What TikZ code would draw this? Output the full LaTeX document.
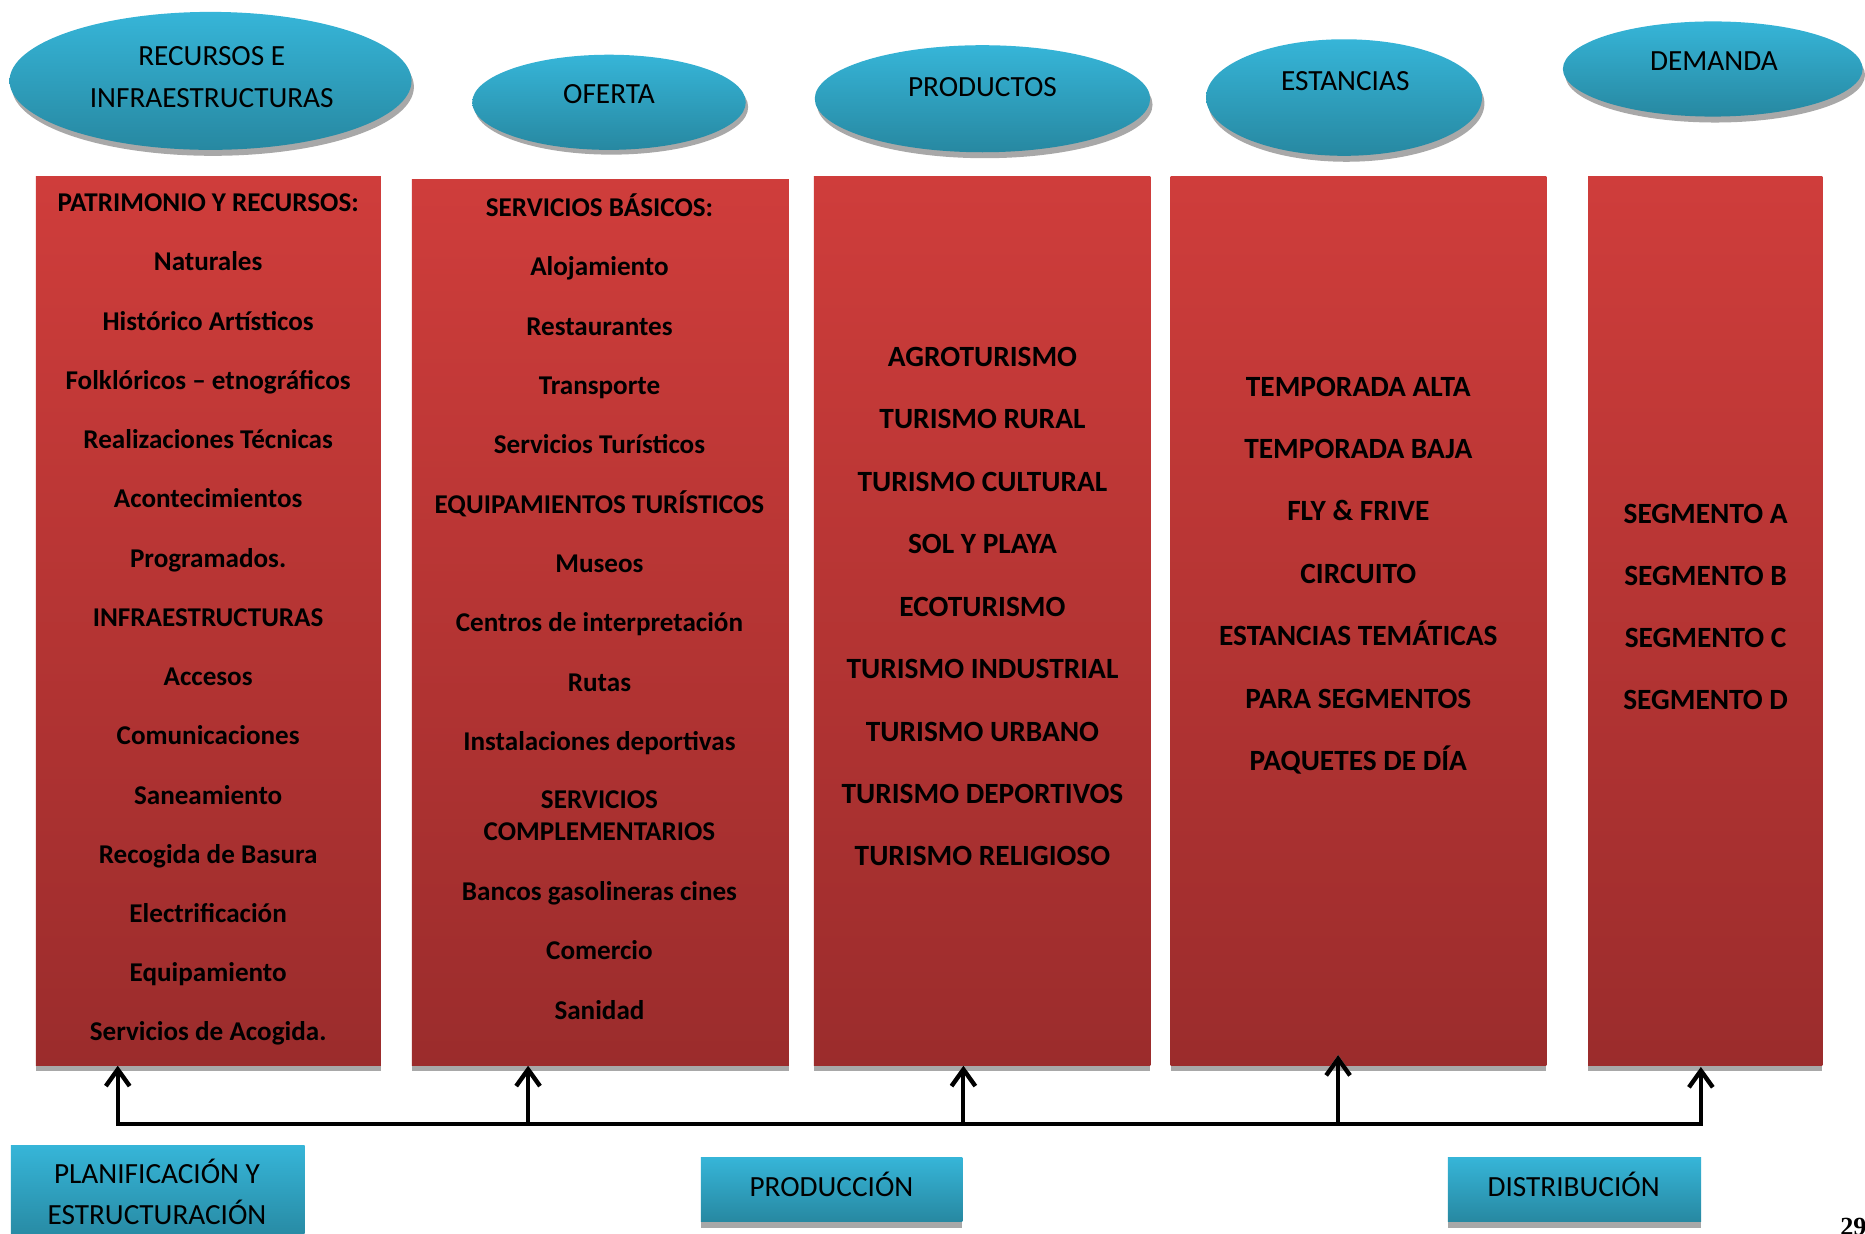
\documentclass[tikz,border=0pt]{standalone}
\usepackage{fontspec}
\setmainfont{Carlito}
\newfontfamily\pagefont{Liberation Serif}
\usetikzlibrary{shapes.geometric,arrows.meta}
\definecolor{cyT}{RGB}{54,181,216}
\definecolor{cyB}{RGB}{39,136,161}
\definecolor{rdT}{RGB}{207,61,59}
\definecolor{rdB}{RGB}{155,44,44}
\definecolor{shd}{RGB}{168,168,168}
\begin{document}
\begin{tikzpicture}[x=1pt,y=-1pt,
  oval/.style={ellipse,inner sep=0pt,top color=cyT,bottom color=cyB,draw=none},
  ovalshadow/.style={ellipse,inner sep=0pt,fill=shd,draw=none},
  ovaltext/.style={font=\fontsize{24.6}{35}\selectfont,align=center,inner sep=0pt,text=black},
  redbox/.style={rectangle,inner sep=0pt,top color=rdT,bottom color=rdB,draw=none,anchor=north west},
  boxshadow/.style={rectangle,inner sep=0pt,fill=shd,draw=none,anchor=north west},
  itemA/.style={font=\bfseries\fontsize{22.8}{27}\selectfont,align=center,inner sep=0pt,anchor=base,text=black},
  itemB/.style={font=\bfseries\fontsize{24.7}{28}\selectfont,align=center,inner sep=0pt,anchor=base,text=black},
  bluebox/.style={rectangle,inner sep=0pt,top color=cyT,bottom color=cyB,draw=none,anchor=north west},
  bluetext/.style={font=\fontsize{24.6}{35}\selectfont,align=center,inner sep=0pt,text=black},
  conn/.style={line width=3.4pt,black},
  connshadow/.style={line width=3.4pt,shd},
  tip/.style={-{Straight Barb[length=14pt,width=20pt,line width=3.6pt]}},
  tiptwo/.style={{Straight Barb[length=14pt,width=20pt,line width=3.6pt]}-{Straight Barb[length=14pt,width=20pt,line width=3.6pt]}}
]
\useasboundingbox (0,0) rectangle (1568,1037);
\fill[white] (0,0) rectangle (1568,1037);

% ---- ellipses ----
\node[ovalshadow,minimum width=338pt,minimum height=116pt] (e1s) at (179,73) {};
\node[oval,minimum width=338pt,minimum height=116pt] (e1) at (177,68) {};
\node[ovaltext] (e1t) at (178,65) {RECURSOS E\\INFRAESTRUCTURAS};

\node[ovalshadow,minimum width=230pt,minimum height=80pt] (e2s) at (514,90) {};
\node[oval,minimum width=230pt,minimum height=80pt] (e2) at (512,86) {};
\node[ovaltext] (e2t) at (512,79) {OFERTA};

\node[ovalshadow,minimum width=282pt,minimum height=90pt] (e3s) at (828,88) {};
\node[oval,minimum width=282pt,minimum height=90pt] (e3) at (826,83) {};
\node[ovaltext] (e3t) at (826,73) {PRODUCTOS};

\node[ovalshadow,minimum width=232pt,minimum height=98pt] (e4s) at (1132,87) {};
\node[oval,minimum width=232pt,minimum height=98pt] (e4) at (1130,82) {};
\node[ovaltext] (e4t) at (1131,68) {ESTANCIAS};

\node[ovalshadow,minimum width=252pt,minimum height=80pt] (e5s) at (1442,63) {};
\node[oval,minimum width=252pt,minimum height=80pt] (e5) at (1440,58) {};
\node[ovaltext] (e5t) at (1441,51) {DEMANDA};

% ---- red columns ----
\node[boxshadow,minimum width=290pt,minimum height=752pt] (b1s) at (30,148) {};
\node[redbox,minimum width=290pt,minimum height=748pt] (b1) at (30,148) {};
\node[boxshadow,minimum width=317pt,minimum height=749pt] (b2s) at (346,151) {};
\node[redbox,minimum width=317pt,minimum height=745pt] (b2) at (346,151) {};
\node[boxshadow,minimum width=283pt,minimum height=752pt] (b3s) at (684,148) {};
\node[redbox,minimum width=283pt,minimum height=748pt] (b3) at (684,148) {};
\node[boxshadow,minimum width=316pt,minimum height=752pt] (b4s) at (984,148) {};
\node[redbox,minimum width=316pt,minimum height=748pt] (b4) at (984,148) {};
\node[boxshadow,minimum width=197pt,minimum height=752pt] (b5s) at (1335,148) {};
\node[redbox,minimum width=197pt,minimum height=748pt] (b5) at (1335,148) {};

% ---- column 1 ----
\foreach \t [count=\i] in {PATRIMONIO Y RECURSOS:,Naturales,Histórico Artísticos,Folklóricos – etnográficos,Realizaciones Técnicas,Acontecimientos,Programados.,INFRAESTRUCTURAS,Accesos,Comunicaciones,Saneamiento,Recogida de Basura,Electrificación,Equipamiento,Servicios de Acogida.}
  \node[itemA] (a\i) at (175,{178+(\i-1)*49.8}) {\t};

% ---- column 2 ----
\foreach \t [count=\i] in {SERVICIOS BÁSICOS:,Alojamiento,Restaurantes,Transporte,Servicios Turísticos,EQUIPAMIENTOS TURÍSTICOS,Museos,Centros de interpretación,Rutas,Instalaciones deportivas}
  \node[itemA] (o\i) at (504,{182+(\i-1)*49.9}) {\t};
\node[itemA,anchor=center] (o11) at (504,686) {SERVICIOS\\COMPLEMENTARIOS};
\node[itemA] (o12) at (504,757) {Bancos gasolineras cines};
\node[itemA] (o13) at (504,807) {Comercio};
\node[itemA] (o14) at (504,857) {Sanidad};

% ---- column 3 ----
\foreach \t [count=\i] in {AGROTURISMO,TURISMO RURAL,TURISMO CULTURAL,SOL Y PLAYA,ECOTURISMO,TURISMO INDUSTRIAL,TURISMO URBANO,TURISMO DEPORTIVOS,TURISMO RELIGIOSO}
  \node[itemB] (r\i) at (826,{308+(\i-1)*52.5}) {\t};

% ---- column 4 ----
\foreach \t [count=\i] in {TEMPORADA ALTA,TEMPORADA BAJA,FLY \& FRIVE,CIRCUITO,ESTANCIAS TEMÁTICAS,PARA SEGMENTOS,PAQUETES DE DÍA}
  \node[itemB] (s\i) at (1142,{333+(\i-1)*52.5}) {\t};

% ---- column 5 ----
\foreach \t [count=\i] in {SEGMENTO A,SEGMENTO B,SEGMENTO C,SEGMENTO D}
  \node[itemB] (d\i) at (1434,{440+(\i-1)*52.3}) {\t};

% ---- connectors ----
\coordinate (c1) at (99,945);
\coordinate (c2) at (444,945);
\coordinate (c3) at (810,945);
\coordinate (c4) at (1125,945);
\coordinate (c5) at (1430,945);
\coordinate (t1) at (99,896);
\coordinate (t2) at (444,896);
\coordinate (t3) at (810,896);
\coordinate (t4) at (1125,887);
\coordinate (t5) at (1430,897);

\begin{scope}[shift={(2,3)}]
  \draw[connshadow,tiptwo,line join=miter] (t1) -- (c1) -- (c5) -- (t5);
  \draw[connshadow,tip] (c2) -- (t2);
  \draw[connshadow,tip] (c3) -- (t3);
  \draw[connshadow,tip] (c4) -- (t4);
\end{scope}
\draw[conn,tiptwo,line join=miter] (t1) -- (c1) -- (c5) -- (t5);
\draw[conn,tip] (c2) -- (t2);
\draw[conn,tip] (c3) -- (t3);
\draw[conn,tip] (c4) -- (t4);

% ---- bottom boxes ----
\node[bluebox,minimum width=247pt,minimum height=80pt] (p1) at (9,963) {};
\node[bluetext] (p1t) at (132,1002) {PLANIFICACIÓN Y\\ESTRUCTURACIÓN};

\node[boxshadow,minimum width=220pt,minimum height=59pt] (p2s) at (589,973) {};
\node[bluebox,minimum width=220pt,minimum height=54pt] (p2) at (589,973) {};
\node[bluetext] (p2t) at (699,996) {PRODUCCIÓN};

\node[boxshadow,minimum width=213pt,minimum height=59pt] (p3s) at (1217,973) {};
\node[bluebox,minimum width=213pt,minimum height=54pt] (p3) at (1217,973) {};
\node[bluetext] (p3t) at (1323,996) {DISTRIBUCIÓN};

% ---- page number ----
\node[font=\pagefont\bfseries\fontsize{22}{24}\selectfont,inner sep=0pt,anchor=north west] (pg) at (1547,1024) {29};
\end{tikzpicture}
\end{document}
